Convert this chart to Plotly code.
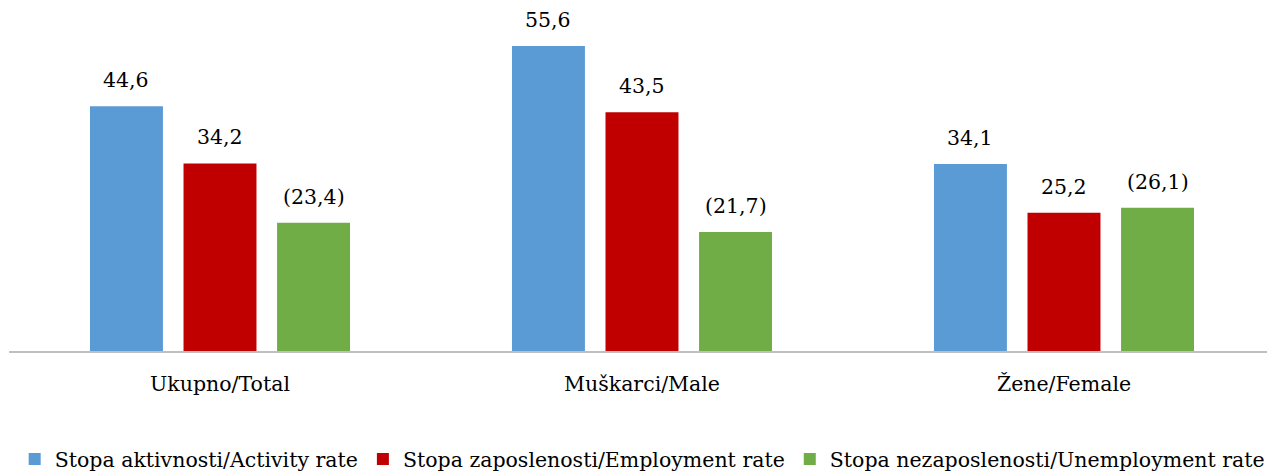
import plotly.graph_objects as go

categories = ["Ukupno/Total", "Muškarci/Male", "Žene/Female"]
series_names = [
    "Stopa aktivnosti/Activity rate",
    "Stopa zaposlenosti/Employment rate",
    "Stopa nezaposlenosti/Unemployment rate",
]
activity = [44.6, 55.6, 34.1]
employment = [34.2, 43.5, 25.2]
unemployment = [23.4, 21.7, 26.1]
label_fmt = ["{:.1f}", "{:.1f}", "({:.1f})"]
colors = ["#5B9BD5", "#C00000", "#70AD47"]

FONT = "DejaVu Serif"
FS = 20.5
bargap = 0.335
bargroupgap = 0.22

fig = go.Figure()
all_series = [activity, employment, unemployment]
for name, vals, col in zip(series_names, all_series, colors):
    fig.add_trace(go.Bar(x=categories, y=vals, name=name, marker=dict(color=col, line=dict(width=0))))

annotations = []
n = len(all_series)
slot = (1 - bargap) / n
for j, (vals, fmt) in enumerate(zip(all_series, label_fmt)):
    for i, v in enumerate(vals):
        annotations.append(dict(
            x=i + (j - (n - 1) / 2) * slot, y=v, xref="x", yref="y",
            text=fmt.format(v).replace(".", ","), showarrow=False,
            yanchor="bottom", yshift=12, font=dict(family=FONT, size=FS, color="#000000"),
        ))

fig.update_layout(
    width=1275, height=474,
    margin=dict(l=1, r=0, t=2, b=131),
    paper_bgcolor="white", plot_bgcolor="white",
    barmode="group", bargap=bargap, bargroupgap=bargroupgap,
    font=dict(family=FONT, size=FS, color="#000000"),
    showlegend=True,
    legend=dict(orientation="h", x=0.497, xanchor="center", y=-0.317, yanchor="middle",
                font=dict(family=FONT, size=FS, color="#000000"), itemclick=False),
    annotations=annotations,
)
fig.update_xaxes(showline=True, linecolor="#BFBFBF", linewidth=1.5, ticks="", showgrid=False,
                 range=[-0.5, 2.519],
                 ticklabelstandoff=14, tickfont=dict(family=FONT, size=FS, color="#000000"))
fig.update_yaxes(range=[0, 62.16], visible=False, showgrid=False, zeroline=False)

fig.write_html("out.html")
